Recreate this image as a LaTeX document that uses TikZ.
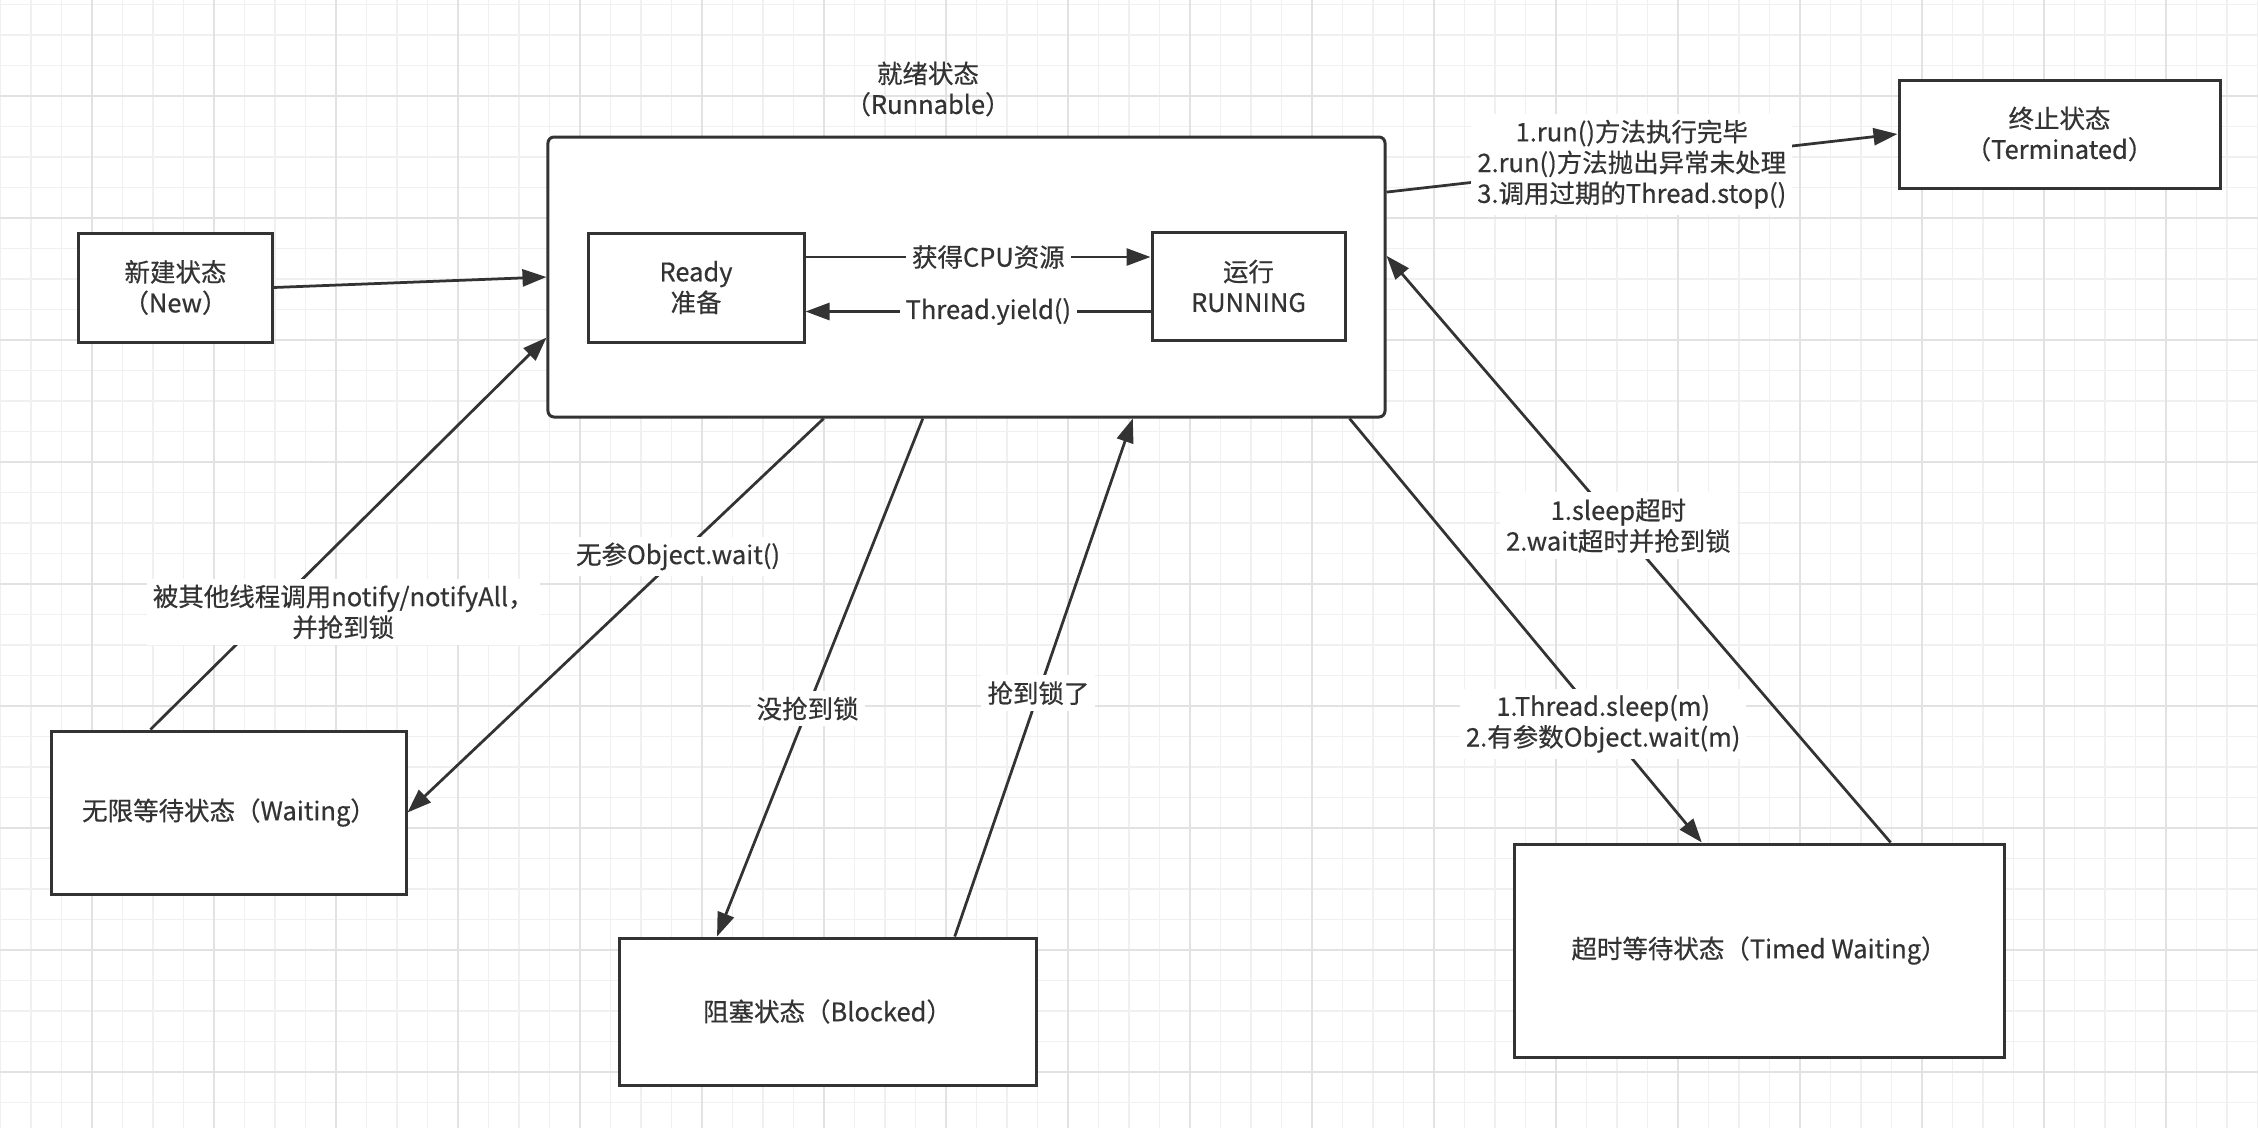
\documentclass[tikz,border=0pt]{standalone}
\usepackage{fontspec}
\setmainfont{Noto Sans CJK SC}[FakeBold=0.5]
\usetikzlibrary{arrows.meta,calc}
\definecolor{inkgray}{HTML}{333333}
\definecolor{gridminor}{HTML}{F0F0F0}
\definecolor{gridmajor}{HTML}{E2E2E2}
\tikzset{
  statebox/.style={draw=inkgray, line width=0.6mm, fill=white, align=center, inner sep=0pt},
  flow/.style={draw=inkgray, line width=0.55mm, -{Triangle[length=4.8mm,width=3.4mm]}},
  flowlabel/.style={fill=white, align=center, inner sep=1.2mm, text=inkgray},
}

\begin{document}
\begin{tikzpicture}[x=0.2mm, y=-0.2mm, font=\fontsize{14.5pt}{17.5pt}\selectfont, text=inkgray]
  \useasboundingbox[fill=white] (0,0) rectangle (2258,1128);
  % background grid
  \foreach \i in {-3,...,71}
    \draw[gridminor, line width=0.3mm] ({92+30.5*\i},0) -- ({92+30.5*\i},1128);
  \foreach \j in {-3,...,33}
    \draw[gridminor, line width=0.3mm] (0,{96+30.5*\j}) -- (2258,{96+30.5*\j});
  \foreach \i in {0,...,17}
    \draw[gridmajor, line width=0.3mm] ({92+122*\i},0) -- ({92+122*\i},1128);
  \foreach \j in {0,...,8}
    \draw[gridmajor, line width=0.3mm] (0,{96+122*\j}) -- (2258,{96+122*\j});

  % states
  \node[statebox, minimum width=38.6mm, minimum height=21.8mm] (new) at (175.5,287.5) {新建状态\\（New）};
  \node[statebox, minimum width=167.4mm, minimum height=56mm, rounded corners=1.2mm] (run) at (966.5,277) {};
  \node[align=center] (runtitle) at (928,89) {就绪状态\\（Runnable）};
  \node[statebox, minimum width=43.2mm, minimum height=21.8mm] (ready) at (696,287.5) {Ready\\准备};
  \node[statebox, minimum width=38.6mm, minimum height=21.6mm] (running) at (1248.5,286) {运行\\RUNNING};
  \node[statebox, minimum width=64.2mm, minimum height=21.6mm] (term) at (2059.5,134) {终止状态\\（Terminated）};
  \node[statebox, minimum width=70.8mm, minimum height=32.6mm] (waiting) at (229,812.5) {无限等待状态（Waiting）};
  \node[statebox, minimum width=83.4mm, minimum height=29.4mm] (blocked) at (827.5,1011.5) {阻塞状态（Blocked）};
  \node[statebox, minimum width=98mm, minimum height=42.6mm] (timed) at (1759,950.5) {超时等待状态（Timed Waiting）};

  % inside runnable
  \coordinate (cpuA) at ([yshift=6.1mm]ready.east);
  \coordinate (yieldA) at ([yshift=-5.1mm]running.west);
  \draw[flow] (cpuA) -- (cpuA -| running.west) node[flowlabel, pos=0.53] {获得CPU资源};
  \draw[flow] (yieldA) -- (yieldA -| ready.east) node[flowlabel, pos=0.47] {Thread.yield()};

  % transitions
  \draw[flow] (new.east) -- (run.west);
  \draw[flow] ($(run.north east)!0.2!(run.south east)$) -- (term.west)
    node[flowlabel, pos=0.48] {1.run()方法执行完毕\\2.run()方法抛出异常未处理\\3.调用过期的Thread.stop()};
  \draw[flow] ($(waiting.north west)!0.28!(waiting.north east)$) -- ($(run.north west)!0.714!(run.south west)$)
    node[flowlabel, pos=0.3, xshift=14.8mm] {被其他线程调用notify/notifyAll，\\并抢到锁};
  \draw[flow] ($(run.south west)!0.33!(run.south east)$) -- (waiting.east)
    node[flowlabel, pos=0.35] {无参Object.wait()};
  \draw[flow] ($(run.south west)!0.448!(run.south east)$) -- ($(blocked.north west)!0.237!(blocked.north east)$)
    node[flowlabel, pos=0.56] {没抢到锁};
  \draw[flow] ($(blocked.north west)!0.803!(blocked.north east)$) -- ($(run.south west)!0.698!(run.south east)$)
    node[flowlabel, pos=0.47] {抢到锁了};
  \draw[flow] ($(run.south west)!0.956!(run.south east)$) -- ($(timed.north west)!0.384!(timed.north east)$)
    node[flowlabel, pos=0.72] {1.Thread.sleep(m)\\2.有参数Object.wait(m)};
  \draw[flow] ($(timed.north west)!0.767!(timed.north east)$) -- ($(run.north east)!0.425!(run.south east)$)
    node[flowlabel, pos=0.54] {1.sleep超时\\2.wait超时并抢到锁};
\end{tikzpicture}
\end{document}
